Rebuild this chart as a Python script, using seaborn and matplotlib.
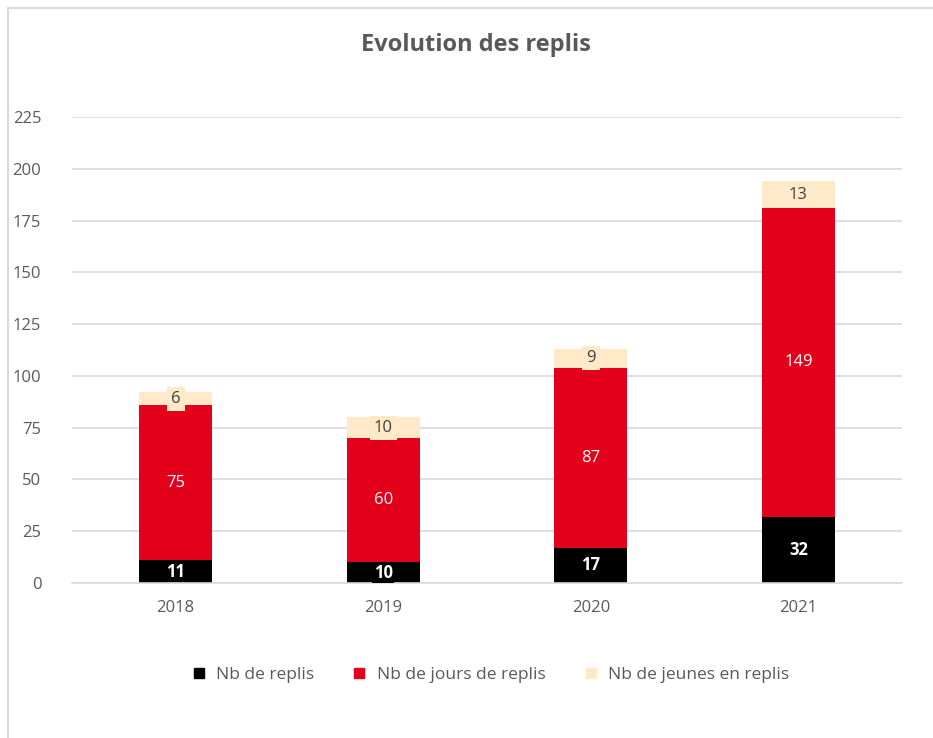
import matplotlib
matplotlib.use("Agg")
import matplotlib.pyplot as plt
from matplotlib.lines import Line2D
import seaborn as sns
import pandas as pd

# data
years = ["2018", "2019", "2020", "2021"]
nb_replis = [11, 10, 17, 32]
nb_jours = [75, 60, 87, 149]
nb_jeunes = [6, 10, 9, 13]
series_names = ["Nb de replis", "Nb de jours de replis", "Nb de jeunes en replis"]
y_ticks = [0, 25, 50, 75, 100, 125, 150, 175, 200, 225]

colors = ["#000000", "#E2001A", "#FFE9C8"]
text_colors = ["white", "white", "#404040"]
grey = "#595959"

sns.set_style("white")
plt.rcParams["font.family"] = ["Open Sans", "DejaVu Sans"]

df = pd.DataFrame({"year": years, "replis": nb_replis, "jours": nb_jours, "jeunes": nb_jeunes})
bottom_jours = df["replis"]
bottom_jeunes = df["replis"] + df["jours"]

fig = plt.figure(figsize=(9.33, 7.38), dpi=100)
ax = fig.add_axes([0.077, 0.21, 0.89, 0.6315])

layers = [("replis", 0), ("jours", bottom_jours), ("jeunes", bottom_jeunes)]
for i, (col, bot) in enumerate(layers):
    sns.barplot(data=df, x="year", y=col, bottom=bot, color=colors[i],
                width=0.35, saturation=1, ax=ax, linewidth=0)

# data labels with filled boxes
pads = [0.08, 0.25, 0.25]
for i, (col, bot) in enumerate(layers):
    for j, v in enumerate(df[col]):
        b = bot if isinstance(bot, int) else bot[j]
        ax.text(j, b + v / 2, str(v), ha="center", va="center", fontsize=12,
                color=text_colors[i], fontweight="bold" if i == 0 else "normal",
                clip_on=True,
                bbox=dict(boxstyle=f"square,pad={pads[i]}", fc=colors[i], ec="none"))

ax.set_ylim(0, 225)
ax.set_xlim(-0.5, 3.5)
ax.set_yticks(y_ticks)
ax.yaxis.grid(True, color="#D9D9D9", linewidth=1.2)
ax.set_axisbelow(True)
for s in ["top", "right", "left"]:
    ax.spines[s].set_visible(False)
ax.spines["bottom"].set_color("#D9D9D9")
ax.spines["bottom"].set_linewidth(1.2)
ax.tick_params(axis="both", length=0, labelsize=12, colors=grey)
ax.tick_params(axis="x", pad=12)
ax.tick_params(axis="y", pad=22)
ax.set_xlabel("")
ax.set_ylabel("")

fig.text(0.51, 0.939, "Evolution des replis", ha="center", va="center",
         fontsize=17, fontweight="bold", color=grey)

handles = [Line2D([0], [0], marker="s", linestyle="none", markersize=7,
                  markerfacecolor=c, markeredgecolor=c) for c in colors]
fig.legend(handles, series_names, loc="center", bbox_to_anchor=(0.52, 0.086),
           ncol=3, frameon=False, fontsize=12.5, labelcolor=grey,
           handletextpad=0.0, columnspacing=1.6)

# light frame of the chart area
fig.add_artist(Line2D([8 / 933, 8 / 933], [0, 1 - 8 / 738], transform=fig.transFigure,
                      color="#D9D9D9", linewidth=1.5))
fig.add_artist(Line2D([8 / 933, 1], [1 - 8 / 738, 1 - 8 / 738], transform=fig.transFigure,
                      color="#D9D9D9", linewidth=1.5))

fig.savefig("out.png", dpi=100)
